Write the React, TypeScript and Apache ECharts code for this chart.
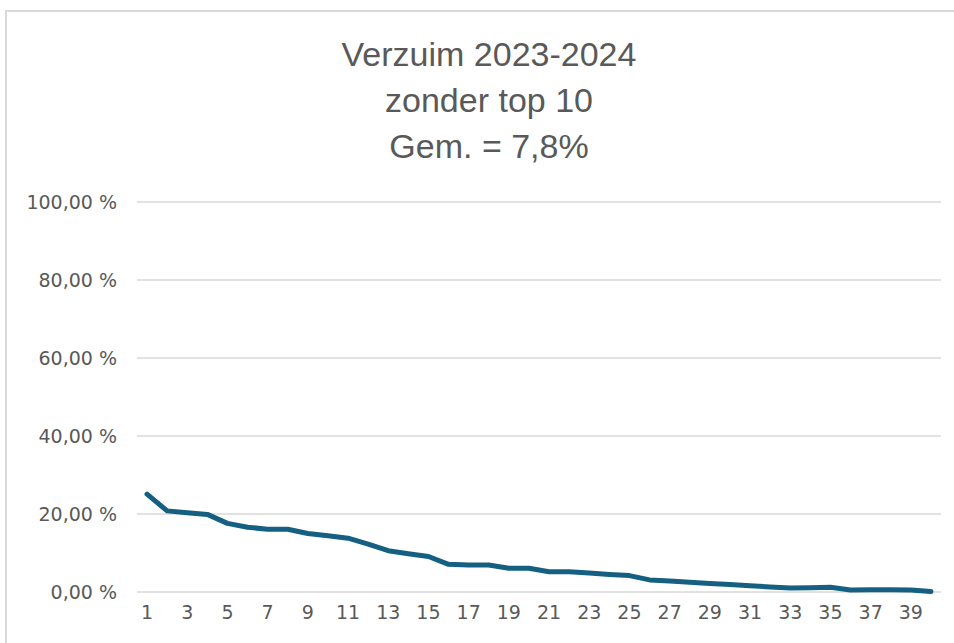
import React, { useEffect, useRef } from "react";
import * as echarts from "echarts";

const titleLines = ["Verzuim 2023-2024", "zonder top 10", "Gem. = 7,8%"];
const categories = Array.from({ length: 40 }, (_, i) => String(i + 1));
const values = [
  25.1, 20.8, 20.3, 19.9, 17.6, 16.6, 16.1, 16.1, 15.0, 14.4,
  13.8, 12.3, 10.6, 9.8, 9.1, 7.1, 6.9, 6.9, 6.1, 6.1,
  5.2, 5.2, 4.9, 4.5, 4.2, 3.1, 2.8, 2.5, 2.2, 1.9,
  1.6, 1.3, 1.0, 1.1, 1.2, 0.5, 0.6, 0.6, 0.5, 0.1,
];

export default function App() {
  const ref = useRef<HTMLDivElement>(null);
  useEffect(() => {
    if (!ref.current) return;
    const chart = echarts.init(ref.current, null, { renderer: "svg" });
    chart.setOption({
      animation: false,
      backgroundColor: "#ffffff",
      graphic: [
        {
          type: "rect",
          shape: { x: 6, y: 11, width: 1000, height: 700 },
          style: { fill: "none", stroke: "#d9d9d9", lineWidth: 2 },
          silent: true,
        },
        {
          type: "text",
          x: 489,
          y: 31,
          silent: true,
          style: {
            text: titleLines.join("\n"),
            align: "center",
            verticalAlign: "top",
            fontFamily: "Liberation Sans, Arial, sans-serif",
            fontSize: 34,
            lineHeight: 46,
            fill: "#595959",
          },
        },
      ],
      grid: { left: 137, right: 13, top: 202, bottom: 51, containLabel: false },
      xAxis: {
        type: "category",
        data: categories,
        boundaryGap: true,
        axisLine: { show: false },
        axisTick: { show: false },
        axisLabel: {
          interval: 1,
          color: "#595959",
          fontSize: 19,
          fontFamily: "DejaVu Sans, sans-serif",
          margin: 10,
        },
      },
      yAxis: {
        type: "value",
        min: 0,
        max: 100,
        interval: 20,
        axisLine: { show: false },
        axisTick: { show: false },
        splitLine: { lineStyle: { color: "#d9d9d9", width: 1.5 } },
        axisLabel: {
          color: "#595959",
          fontSize: 19,
          fontFamily: "DejaVu Sans, sans-serif",
          margin: 20,
          formatter: (v: number) => v.toFixed(2).replace(".", ",") + " %",
        },
      },
      series: [
        {
          type: "line",
          data: values,
          symbol: "none",
          smooth: false,
          lineStyle: { color: "#156082", width: 5, cap: "round", join: "round" },
        },
      ],
    });
    return () => chart.dispose();
  }, []);
  return (
    <div
      ref={ref}
      style={{ position: "fixed", left: 0, top: 0, width: 954, height: 643 }}
    />
  );
}
